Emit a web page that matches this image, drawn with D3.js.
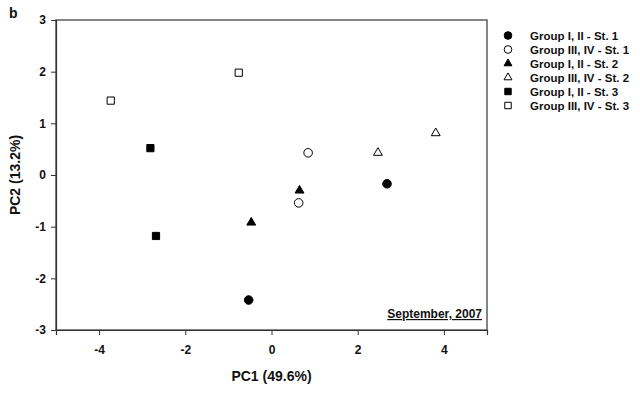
<!DOCTYPE html>
<html>
<head>
<meta charset="utf-8">
<script src="https://cdn.jsdelivr.net/npm/d3@7"></script>
<style>
  body { margin: 0; background: #fff; }
  svg { font-family: "Liberation Sans", Arial, sans-serif; font-weight: bold; }
</style>
</head>
<body>
<svg id="chart"></svg>
<script>
// series names, symbol and fill per group
const groups = ["Group I, II - St. 1", "Group III, IV - St. 1", "Group I, II - St. 2",
                "Group III, IV - St. 2", "Group I, II - St. 3", "Group III, IV - St. 3"];
const symbols = ["circle", "circle", "triangle", "triangle", "square", "square"];
const filled = [true, false, true, false, true, false];

// PC1 / PC2 scores (two samples per group)
const pc1 = [[2.68, -0.53], [0.85, 0.63], [0.65, -0.47], [2.47, 3.81], [-2.81, -2.68], [-3.73, -0.76]];
const pc2 = [[-0.17, -2.42], [0.43, -0.54], [-0.30, -0.92], [0.43, 0.81], [0.52, -1.18], [1.44, 1.98]];

const xTicks = [-4, -2, 0, 2, 4];
const yTicks = [-3, -2, -1, 0, 1, 2, 3];

const width = 640, height = 393;
const margin = { top: 20, right: 153, bottom: 63, left: 56 };

const svg = d3.select("#chart")
    .attr("width", width)
    .attr("height", height);

const x = d3.scaleLinear()
    .domain([-5, 5])
    .range([margin.left, width - margin.right]);

const y = d3.scaleLinear()
    .domain([-3, 3])
    .range([height - margin.bottom, margin.top]);

const fmt = d => String(d); // plain hyphen minus, no decimals

// frame
svg.append("rect")
    .attr("x", x(-5))
    .attr("y", y(3))
    .attr("width", x(5) - x(-5))
    .attr("height", y(-3) - y(3))
    .attr("fill", "none")
    .attr("stroke", "#333")
    .attr("stroke-width", 1.2);

const xAxis = svg.append("g")
    .attr("transform", `translate(0, ${y(-3)})`)
    .call(d3.axisBottom(x).tickValues(xTicks).tickFormat(fmt).tickSize(5).tickPadding(10));

const yAxis = svg.append("g")
    .attr("transform", `translate(${x(-5)}, 0)`)
    .call(d3.axisLeft(y).tickValues(yTicks).tickFormat(fmt).tickSize(5).tickPadding(5));

[xAxis, yAxis].forEach(a => {
    a.select(".domain").attr("stroke", "#333").attr("stroke-width", 1.2);
    a.selectAll(".tick line").attr("stroke", "#333");
    a.selectAll("text")
        .attr("font-size", 12)
        .attr("font-weight", "bold")
        .attr("font-family", "Liberation Sans, Arial, sans-serif")
        .attr("fill", "#111");
});

function symbolPath(kind, size) {
    const t = kind === "circle" ? d3.symbolCircle : kind === "triangle" ? d3.symbolTriangle : d3.symbolSquare;
    return d3.symbol().type(t).size(size)();
}
const sizes = { circle: 58, triangle: 34, square: 52 };

// points
groups.forEach((g, i) => {
    pc1[i].forEach((v, j) => {
        svg.append("path")
            .attr("d", symbolPath(symbols[i], sizes[symbols[i]]))
            .attr("transform", `translate(${x(v)}, ${y(pc2[i][j])})`)
            .attr("fill", filled[i] ? "#000" : "#fff")
            .attr("stroke", "#000")
            .attr("stroke-width", 1);
    });
});

// legend
const legend = svg.append("g");
groups.forEach((g, i) => {
    const ly = 35.5 + i * 14;
    legend.append("path")
        .attr("d", symbolPath(symbols[i], sizes[symbols[i]] * 0.8))
        .attr("transform", `translate(508, ${ly})`)
        .attr("fill", filled[i] ? "#000" : "#fff")
        .attr("stroke", "#000")
        .attr("stroke-width", 1);
    legend.append("text")
        .attr("x", 530)
        .attr("y", ly + 4)
        .attr("font-size", 11.5)
        .attr("fill", "#111")
        .text(g);
});

// date note
svg.append("text")
    .attr("x", x(5) - 5)
    .attr("y", y(-3) - 12)
    .attr("text-anchor", "end")
    .attr("font-size", 12)
    .attr("text-decoration", "underline")
    .attr("fill", "#111")
    .text("September, 2007");

// axis titles
svg.append("text")
    .attr("x", x(0))
    .attr("y", 381)
    .attr("text-anchor", "middle")
    .attr("font-size", 14)
    .attr("fill", "#111")
    .text("PC1 (49.6%)");

svg.append("text")
    .attr("transform", `translate(20, ${y(0)}) rotate(-90)`)
    .attr("text-anchor", "middle")
    .attr("font-size", 14)
    .attr("fill", "#111")
    .text("PC2 (13.2%)");

svg.append("text")
    .attr("x", 9)
    .attr("y", 18)
    .attr("font-size", 14)
    .attr("fill", "#111")
    .text("b");
</script>
</body>
</html>
